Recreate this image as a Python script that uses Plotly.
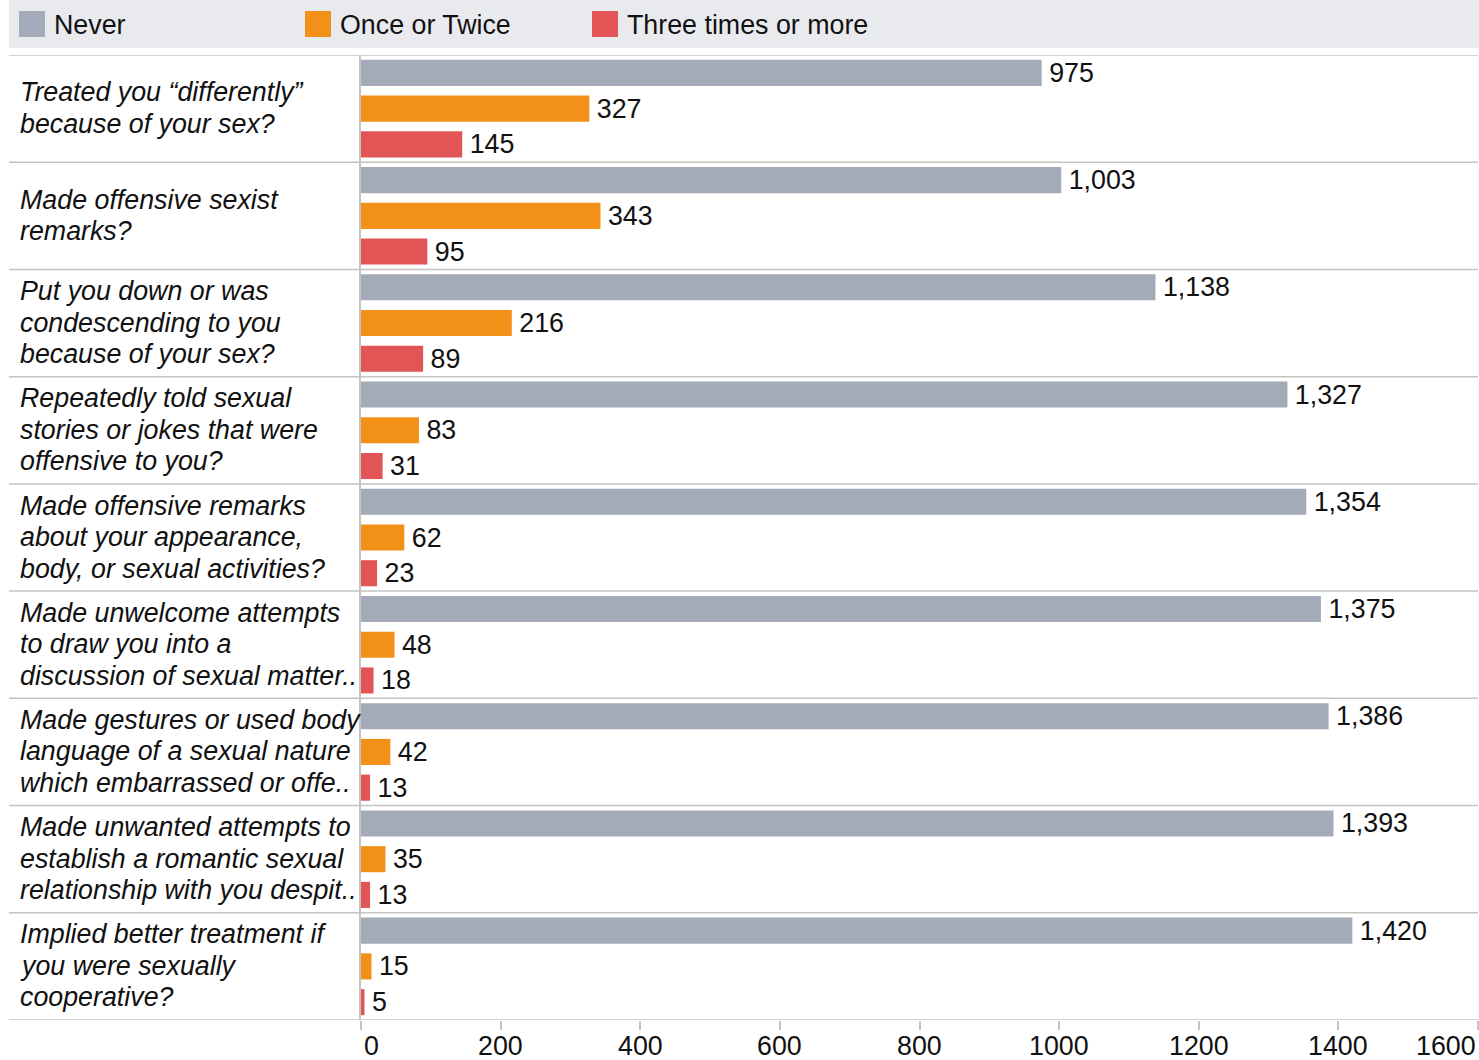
import plotly.graph_objects as go

categories = [
    ["Treated you “differently”", "because of your sex?"],
    ["Made offensive sexist", "remarks?"],
    ["Put you down or was", "condescending to you", "because of your sex?"],
    ["Repeatedly told sexual", "stories or jokes that were", "offensive to you?"],
    ["Made offensive remarks", "about your appearance,", "body, or sexual activities?"],
    ["Made unwelcome attempts", "to draw you into a", "discussion of sexual matter.."],
    ["Made gestures or used body", "language of a sexual nature", "which embarrassed or offe.."],
    ["Made unwanted attempts to", "establish a romantic sexual", "relationship with you despit.."],
    ["Implied better treatment if", "you were sexually", "cooperative?"],
]
series_names = ["Never", "Once or Twice", "Three times or more"]
never = [975, 1003, 1138, 1327, 1354, 1375, 1386, 1393, 1420]
once_twice = [327, 343, 216, 83, 62, 48, 42, 35, 15]
three_plus = [145, 95, 89, 31, 23, 18, 13, 13, 5]
tick_values = [0, 200, 400, 600, 800, 1000, 1200, 1400, 1600]

colors = ["#a2abb7", "#f29018", "#e15556"]
FONT = "Liberation Sans, Arial, sans-serif"
TXT = "#111111"
FS = 26.8

W, H = 1479, 1060
ML, MR, MT, MB = 361, 1, 55, 40
PW, PH = W - ML - MR, H - MT - MB

def px_x(px):
    return (px - ML) / PW

def px_y(py):
    return (H - MB - py) / PH

ykeys = list(range(len(categories)))

fig = go.Figure()
for name, vals, col in zip(series_names, [never, once_twice, three_plus], colors):
    fig.add_trace(go.Bar(
        y=ykeys, x=vals, orientation="h", name=name,
        marker=dict(color=col, line=dict(width=0)),
        texttemplate="\u2006%{x:,}", textposition="outside",
        textfont=dict(family=FONT, size=FS, color=TXT),
        constraintext="none", cliponaxis=False, showlegend=False,
        hoverinfo="x+name",
    ))

shapes = []
annotations = []

# legend band
shapes.append(dict(type="rect", xref="paper", yref="paper",
                   x0=px_x(9), x1=px_x(W), y0=px_y(48), y1=px_y(0),
                   fillcolor="#e9eaee", line=dict(width=0), layer="below"))
legend_x = [19, 305, 592]
for lx, name, col in zip(legend_x, series_names, colors):
    shapes.append(dict(type="rect", xref="paper", yref="paper",
                       x0=px_x(lx), x1=px_x(lx + 26), y0=px_y(37), y1=px_y(11),
                       fillcolor=col, line=dict(width=0)))
    annotations.append(dict(xref="paper", yref="paper", x=px_x(lx + 33), y=px_y(25),
                            xanchor="left", yanchor="middle", showarrow=False,
                            text=name, font=dict(family=FONT, size=FS, color=TXT)))

# row separators
for i in range(len(categories) + 1):
    shapes.append(dict(type="line", xref="paper", yref="y",
                       x0=px_x(9), x1=1, y0=i - 0.5, y1=i - 0.5,
                       line=dict(color="#c4c4c4", width=1.5)))

# category labels
LINE = 31.5
for i, lines in enumerate(categories):
    n = len(lines)
    for j, ln in enumerate(lines):
        annotations.append(dict(xref="paper", yref="y", x=px_x(18), y=i,
                                yshift=-(j - (n - 1) / 2) * LINE + 0.5,
                                xanchor="left", yanchor="middle", showarrow=False,
                                text=ln,
                                font=dict(family=FONT, size=FS, color=TXT, style="italic")))

# x tick labels
for k, tv in enumerate(tick_values):
    anchor = "center"
    if k == 0:
        anchor = "left"
    elif k == len(tick_values) - 1:
        anchor = "right"
    annotations.append(dict(xref="x", yref="paper", x=tv, y=px_y(1046),
                            xanchor=anchor, yanchor="middle", showarrow=False,
                            xshift=1 if k == 0 else 0,
                            text=str(tv), font=dict(family=FONT, size=FS, color=TXT)))

fig.update_layout(
    width=W, height=H,
    margin=dict(l=ML, r=MR, t=MT, b=MB),
    paper_bgcolor="white", plot_bgcolor="white",
    barmode="group", bargap=0, bargroupgap=0.27,
    shapes=shapes, annotations=annotations,
    font=dict(family=FONT, size=FS, color=TXT),
    xaxis=dict(range=[0, 1600], tickvals=tick_values, showticklabels=False,
               ticks="outside", ticklen=9, tickcolor="#c4c4c4", tickwidth=1.5,
               showgrid=False, zeroline=False, showline=False, fixedrange=True),
    yaxis=dict(range=[len(categories) - 0.5, -0.5], showticklabels=False,
               showgrid=False, zeroline=False, showline=True,
               linecolor="#c4c4c4", linewidth=1.5, ticks="", fixedrange=True),
)

fig.write_html("out.html", config={"displayModeBar": False},
               post_script="document.body.style.margin='0';document.body.style.overflow='hidden';")
